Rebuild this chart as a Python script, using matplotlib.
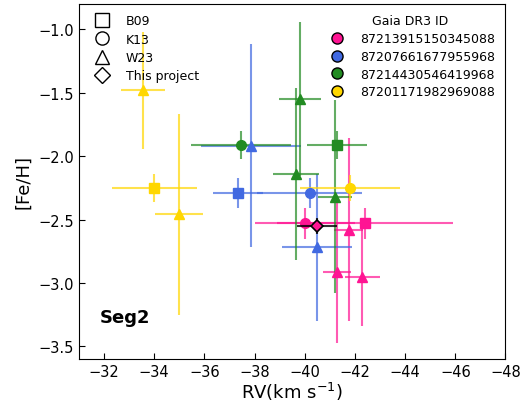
import numpy as np
import matplotlib.pyplot as plt
from matplotlib.lines import Line2D

# Звёзды Seg2 и их цвета
star_ids = ['87213915150345088', '87207661677955968',
            '87214430546419968', '87201171982969088']
star_colors = ['deeppink', 'royalblue', 'forestgreen', 'gold']

# Источники измерений
sources = ['B09', 'K13', 'W23', 'This project']
source_markers = {'B09': 's', 'K13': 'o', 'W23': '^', 'This project': 'D'}

# Измерения: звезда, источник, RV, ошибка RV, [Fe/H], ошибка [Fe/H]
meas_star = [0, 0, 0, 0, 0, 0,
             1, 1, 1, 1,
             2, 2, 2, 2, 2,
             3, 3, 3, 3]
meas_src = ['B09', 'K13', 'W23', 'W23', 'W23', 'This project',
            'B09', 'K13', 'W23', 'W23',
            'B09', 'K13', 'W23', 'W23', 'W23',
            'B09', 'K13', 'W23', 'W23']
rv = [-42.4, -40.0, -41.75, -41.3, -42.3, -40.5,
      -37.35, -40.2, -37.85, -40.5,
      -41.3, -37.45, -39.65, -39.8, -41.2,
      -34.0, -41.8, -33.55, -35.0]
rv_err = [3.5, 2.0, 0.58, 0.56, 0.69, 0.8,
          1.0, 2.1, 2.0, 1.4,
          1.2, 2.0, 0.93, 0.83, 0.67,
          1.7, 2.0, 0.88, 0.96]
feh = [-2.53, -2.53, -2.58, -2.91, -2.95, -2.55,
       -2.29, -2.29, -1.92, -2.72,
       -1.91, -1.91, -2.14, -1.55, -2.32,
       -2.25, -2.25, -1.48, -2.46]
feh_err = [0.12, 0.12, 0.72, 0.56, 0.39, 0.06,
           0.12, 0.12, 0.8, 0.58,
           0.11, 0.11, 0.68, 0.61, 0.76,
           0.11, 0.1, 0.46, 0.79]

fig, ax = plt.subplots(figsize=(5.26, 4.06), dpi=100)
fig.subplots_adjust(left=0.15, right=0.961, bottom=0.113, top=0.988)

for i in range(len(rv)):
    c = star_colors[meas_star[i]]
    src = meas_src[i]
    if src == 'This project':
        ax.errorbar(rv[i], feh[i], xerr=rv_err[i], yerr=feh_err[i], fmt='none',
                    ecolor='k', elinewidth=1.5, alpha=0.8, zorder=4)
        ax.plot(rv[i], feh[i], marker='D', color=c, mec='k', mew=1.2, ms=6,
                ls='none', zorder=5)
    else:
        ax.errorbar(rv[i], feh[i], xerr=rv_err[i], yerr=feh_err[i], fmt='none',
                    ecolor=c, elinewidth=1.5, alpha=0.7, zorder=2)
        ax.plot(rv[i], feh[i], marker=source_markers[src], color=c, ms=7,
                ls='none', zorder=3)

ax.set_xlim(-31, -48)
ax.set_ylim(-3.6, -0.8)
ax.set_xticks(np.arange(-32, -49, -2))
ax.tick_params(direction='in', labelsize=10.5, length=4)
ax.set_xlabel('RV(km s$^{-1}$)', fontsize=13, labelpad=1)
ax.set_ylabel('[Fe/H]', fontsize=13)

ax.text(0.05, 0.105, 'Seg2', transform=ax.transAxes, fontsize=13,
        fontweight='bold')

# Легенда по источникам
src_handles = [Line2D([], [], marker=source_markers[s], color='k', mfc='white',
                      ls='none', ms=9.5 if s != 'This project' else 8)
               for s in sources]
leg1 = ax.legend(src_handles, sources, loc='upper left', frameon=False,
                 fontsize=9, handletextpad=0.9, borderaxespad=0.45,
                 labelspacing=0.42)
ax.add_artist(leg1)

# Легенда по звёздам
star_handles = [Line2D([], [], marker='o', color=c, mec='k', ls='none', ms=8)
                for c in star_colors]
ax.legend(star_handles, star_ids, loc='upper right', frameon=False,
          fontsize=9, title='Gaia DR3 ID', title_fontsize=9,
          handletextpad=0.8, borderaxespad=0.45, labelspacing=0.38)

plt.savefig('out.png', dpi=100)
